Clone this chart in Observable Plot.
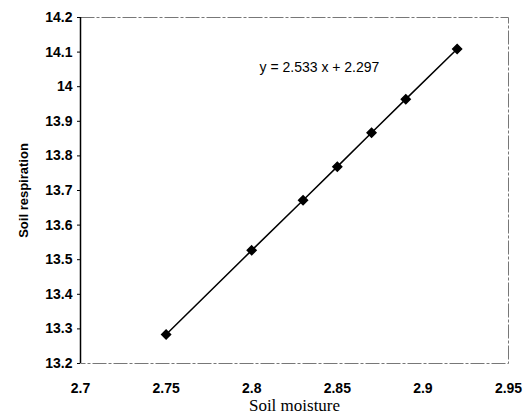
<!DOCTYPE html>
<html><head><meta charset="utf-8">
<script src="https://cdn.jsdelivr.net/npm/d3@7"></script>
<script src="https://cdn.jsdelivr.net/npm/@observablehq/plot@0.6"></script>
<style>
body{margin:0;background:#fff;}
#chart svg{display:block;}
</style>
</head><body><div id="chart"></div>
<script>
const moisture = [2.75, 2.80, 2.83, 2.85, 2.87, 2.89, 2.92];
const respiration = [13.284, 13.527, 13.672, 13.769, 13.867, 13.964, 14.109];
const xTicks = [2.7, 2.75, 2.8, 2.85, 2.9, 2.95];
const yTicks = [13.2, 13.3, 13.4, 13.5, 13.6, 13.7, 13.8, 13.9, 14, 14.1, 14.2];
const equation = "y = 2.533 x + 2.297";

const data = moisture.map((x, i) => ({x, y: respiration[i]}));

const chart = Plot.plot({
  width: 529, height: 419,
  marginLeft: 80, marginRight: 21, marginTop: 17, marginBottom: 56,
  style: {fontFamily: "Liberation Sans, Arial, sans-serif", background: "#fff", color: "#000"},
  x: {domain: [2.7, 2.95]},
  y: {domain: [13.2, 14.2]},
  marks: [
    Plot.frame({stroke: "#777", strokeWidth: 1, strokeDasharray: "14,2,3,2"}),
    Plot.ruleX([2.7], {stroke: "#000", strokeWidth: 1.5}),
    Plot.axisY({ticks: yTicks, tickSize: 3, tickPadding: 5, tickFormat: d => String(+d.toFixed(1)),
      fontSize: 14, fontWeight: "bold", label: "Soil respiration", labelAnchor: "center",
      labelOffset: 62, labelArrow: "none"}),
    Plot.axisX({ticks: xTicks, tickSize: 0, tickPadding: 20, tickFormat: d => String(+d.toFixed(2)),
      fontSize: 14, fontWeight: "bold", label: null}),
    Plot.axisX({ticks: [], tickSize: 0, label: "Soil moisture", labelAnchor: "center", labelOffset: 47,
      fontSize: 17, fontFamily: "Liberation Serif, Times New Roman, serif", labelArrow: "none"}),
    Plot.line(data, {x: "x", y: "y", stroke: "#000", strokeWidth: 1.5}),
    Plot.dot(data, {x: "x", y: "y", symbol: "diamond2", r: 4, fill: "#000", stroke: "#000"}),
    Plot.text([equation], {frameAnchor: "top-left", dx: 179, dy: 45, text: d => d, fontSize: 14, textAnchor: "start"})
  ]
});
document.getElementById("chart").appendChild(chart);
chart.querySelectorAll("g[aria-label='y-axis label'] text").forEach(t => { t.setAttribute("font-weight", "bold"); t.setAttribute("font-size", "13"); });
</script>
</body></html>
